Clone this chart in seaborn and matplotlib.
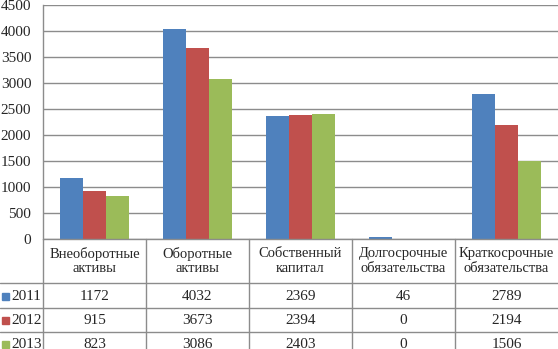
import matplotlib
matplotlib.use("Agg")
import matplotlib.pyplot as plt
import seaborn as sns
import pandas as pd
from matplotlib.lines import Line2D
from matplotlib.patches import Rectangle

categories = ["Внеоборотные\nактивы", "Оборотные\nактивы", "Собственный\nкапитал",
              "Долгосрочные\nобязательства", "Краткосрочные\nобязательства"]
years = ["2011", "2012", "2013"]
v2011 = [1172, 4032, 2369, 46, 2789]
v2012 = [915, 3673, 2394, 0, 2194]
v2013 = [823, 3086, 2403, 0, 1506]
yticks = [0, 500, 1000, 1500, 2000, 2500, 3000, 3500, 4000, 4500]
colors = ["#4F81BD", "#C0504D", "#9BBB59"]

series = [v2011, v2012, v2013]
rows = []
for y, vals in zip(years, series):
    for c, v in zip(categories, vals):
        rows.append({"cat": c, "year": y, "val": v})
df = pd.DataFrame(rows)

sns.set_style("white")
plt.rcParams["font.family"] = ["Liberation Serif", "DejaVu Serif"]

W, H = 558, 349
fig = plt.figure(figsize=(W / 100, H / 100), dpi=100)
x0, x1 = 43, 558
ytop, ybot = 5, 239
ax = fig.add_axes([x0 / W, 1 - ybot / H, (x1 - x0) / W, (ybot - ytop) / H])

sns.barplot(data=df, x="cat", y="val", hue="year", palette=colors, width=0.67,
            ax=ax, legend=False, saturation=1, edgecolor="none")
ax.set_xlim(-0.5, 4.5)
ax.set_ylim(0, 4500)
ax.set_yticks(yticks)
ax.set_yticklabels([str(t) for t in yticks], fontsize=11)
ax.tick_params(axis="y", length=0, pad=8.5)
ax.set_xticks([])
ax.set_xlabel("")
ax.set_ylabel("")
ax.yaxis.grid(True, color="#8c8c8c", linewidth=1)
ax.set_axisbelow(True)
for s in ["top", "right", "bottom"]:
    ax.spines[s].set_visible(False)
ax.spines["left"].set_color("#8c8c8c")
ax.spines["left"].set_linewidth(1)

# data table
def fy(py):
    return 1 - py / H

def fx(px):
    return px / W

lc = "#8c8c8c"
hlines = [239, 283, 308, 332]
for yy in hlines:
    start = x0 if yy == 239 else 0
    fig.add_artist(Line2D([fx(start), 1], [fy(yy), fy(yy)], color=lc, linewidth=1))
cw = (x1 - x0) / 5
for i in range(5):
    xx = x0 + i * cw
    fig.add_artist(Line2D([fx(xx), fx(xx)], [fy(239), 0], color=lc, linewidth=1))

for i, c in enumerate(categories):
    cx = x0 + (i + 0.5) * cw
    fig.text(fx(cx), fy(261), c, ha="center", va="center", fontsize=10.5,
             linespacing=1.15)

row_centers = [296, 320, 344]
for r, (y, vals, col) in enumerate(zip(years, series, colors)):
    cy = row_centers[r]
    fig.add_artist(Rectangle((fx(2), fy(cy + 3.5)), 7 / W, 7 / H, color=col,
                             transform=fig.transFigure))
    fig.text(fx(11), fy(cy), y, ha="left", va="center", fontsize=11)
    for i, v in enumerate(vals):
        cx = x0 + (i + 0.5) * cw
        fig.text(fx(cx), fy(cy), str(v), ha="center", va="center", fontsize=11)

fig.savefig("out.png", dpi=100)
